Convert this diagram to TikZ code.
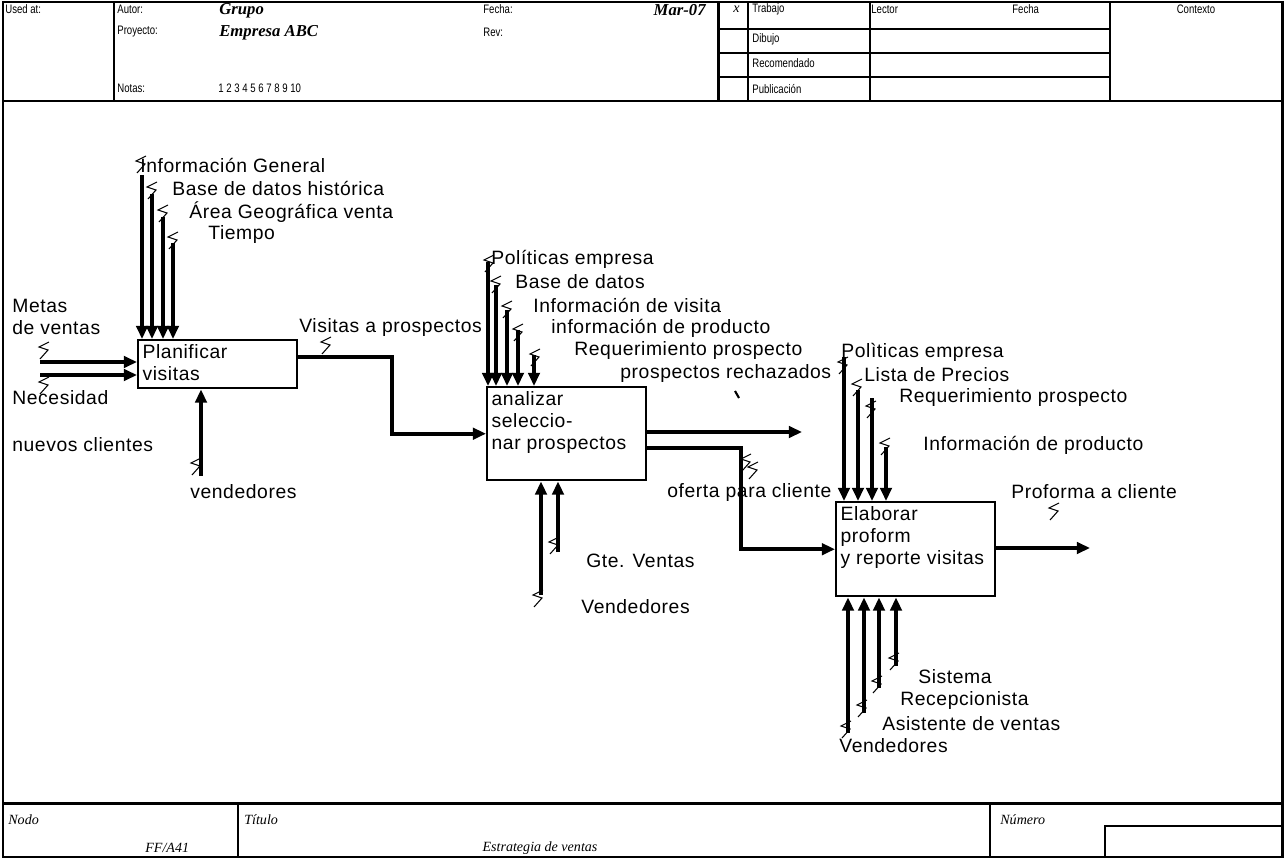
\documentclass[tikz,border=0pt]{standalone}
\usepackage{fontspec}
\setmainfont{Liberation Sans}
\newfontfamily\lblfont{Liberation Sans}[LetterSpace=3]
\newfontfamily\hdrfont{Liberation Sans}[FakeStretch=0.78]
\newfontfamily\handfont{Liberation Serif}
\usetikzlibrary{arrows.meta}

\tikzset{
  proc/.style={draw, line width=1.4pt, anchor=north west, inner sep=0pt},
  proctxt/.style={anchor=north west, inner sep=3pt, align=left, font=\lblfont\fontsize{11}{12.5}\selectfont},
  flow/.style={line width=2.2pt, -{Triangle[length=7.5pt,width=6.5pt]}},
  lbl/.style={anchor=west, inner sep=0pt, font=\lblfont\fontsize{11}{13}\selectfont},
  hdr/.style={anchor=west, inner sep=0pt, font=\hdrfont\fontsize{7}{8}\selectfont},
  hand/.style={anchor=west, inner sep=0pt, font=\handfont\itshape\fontsize{8}{9}\selectfont},
  handb/.style={anchor=west, inner sep=0pt, font=\handfont\bfseries\itshape\fontsize{9.5}{10}\selectfont},
  frm/.style={line width=1pt},
  frmb/.style={line width=1.7pt},
  squig/.style={line width=0.6pt}
}
\newcommand{\squigat}[2]{\draw[squig, shift={(#1,#2)}] (5,-8) -- (-5,-3) -- (4,0) -- (-4,9);}

\begin{document}
\begin{tikzpicture}[x=0.02cm, y=-0.02cm]
\useasboundingbox (0,0) rectangle (1284,858);

% frame
\draw[frmb] (3,2) rectangle (1282,857);
\draw[frmb] (3,101) -- (1282,101);
\draw[frmb] (3,803) -- (1282,803);
\draw[frmb] (114,2) -- (114,101);
\draw[frmb] (718,2) -- (718,101);
\draw[frm] (748,2) -- (748,101);
\draw[frm] (870,2) -- (870,101);
\draw[frm] (1110,2) -- (1110,101);
\foreach \r in {29,53,77}
  \draw[frm] (718,\r) -- (1110,\r);
\draw[frm] (238,803) -- (238,857);
\draw[frm] (990,803) -- (990,857);
\draw[frm] (1105,857) -- (1105,826) -- (1282,826);

% header texts
\node[hdr] (usedat) at (5,9) {Used at:};
\node[hdr] (autor) at (117,9) {Autor:};
\node[handb] (grupo) at (219,11) {Grupo};
\node[hdr] (fecha) at (483,9) {Fecha:};
\node[handb, anchor=east] (mar) at (706,10) {Mar-07};
\node[hand] (xmark) at (733,9) {x};
\node[hdr] (trabajo) at (752,9) {Trabajo};
\node[hdr] (lector) at (871,9) {Lector};
\node[hdr] (fecha2) at (1012,9) {Fecha};
\node[hdr, anchor=center] (contexto) at (1196,9) {Contexto};
\node[hdr] (proyecto) at (117,32) {Proyecto:};
\node[handb] (empresa) at (219,33) {Empresa ABC};
\node[hdr] (rev) at (483,32) {Rev:};
\node[hdr] (dibujo) at (752,39) {Dibujo};
\node[hdr] (recom) at (752,63) {Recomendado};
\node[hdr] (notas) at (117,88) {Notas:};
\node[hdr] (nums) at (218,88) {1 2 3 4 5 6 7 8 9 10};
\node[hdr] (publ) at (752,89) {Publicación};

% footer texts
\node[hand] (nodo) at (8,820) {Nodo};
\node[hand] (ff) at (145,848) {FF/A41};
\node[hand] (titulo) at (244,820) {Título};
\node[hand, anchor=center] (estr) at (540,848) {Estrategia de ventas};
\node[hand] (numero) at (1000,820) {Número};

% boxes
\node[proc, minimum width=3.18cm, minimum height=0.96cm] (b1) at (137,339) {};
\node[proctxt] at (b1.north west) {Planificar\\visitas};
\node[proc, minimum width=3.18cm, minimum height=1.86cm] (b2) at (486,386) {};
\node[proctxt] at (b2.north west) {analizar\\seleccio-\\nar prospectos};
\node[proc, minimum width=3.18cm, minimum height=1.88cm] (b3) at (835,501) {};
\node[proctxt] at (b3.north west) {Elaborar\\proform\\y reporte visitas};

% box 1
\node[lbl] (c11) at (140,165) {Información General};
\node[lbl] (c12) at (172,188) {Base de datos histórica};
\node[lbl] (c13) at (189,212) {Área Geográfica venta};
\node[lbl] (c14) at (208,235) {Tiempo};
\coordinate (s11) at (142,175);
\coordinate (s12) at (152,194);
\coordinate (s13) at (163,217);
\coordinate (s14) at (173,243);
\foreach \s in {s11,s12,s13,s14}
  \draw[flow] (\s) -- (\s |- b1.north);
\squigat{141}{164}
\squigat{152}{190}
\squigat{163}{213}
\squigat{173}{240}

\node[lbl] (i11) at (12,306) {Metas};
\node[lbl] (i12) at (12,328) {de ventas};
\node[lbl] (i13) at (12,398) {Necesidad};
\node[lbl] (i14) at (12,445) {nuevos clientes};
\coordinate (e11) at (40,362);
\coordinate (e12) at (40,375);
\draw[flow] (e11) -- (e11 -| b1.west);
\draw[flow] (e12) -- (e12 -| b1.west);
\squigat{44}{350}
\squigat{44}{385}

\node[lbl] (m11) at (190,492) {vendedores};
\coordinate (u11) at (201,476);
\draw[flow] (u11) -- (u11 |- b1.south);
\squigat{196}{466}

\node[lbl] (o11) at (299,328) {Visitas a prospectos};
\coordinate (k1) at (392,357);
\draw[flow] (b1.east |- k1) -- (k1) |- (b2.west);
\squigat{326}{345}

% box 2
\node[lbl] (c21) at (491,259) {Políticas empresa};
\node[lbl] (c22) at (515,282) {Base de datos};
\node[lbl] (c23) at (533,305) {Información de visita};
\node[lbl] (c24) at (551,328) {información de producto};
\node[lbl] (c25) at (574,351) {Requerimiento prospecto};
\coordinate (s21) at (488,262);
\coordinate (s22) at (496,285);
\coordinate (s23) at (507,310);
\coordinate (s24) at (518,330);
\coordinate (s25) at (534,355);
\foreach \s in {s21,s22,s23,s24,s25}
  \draw[flow] (\s) -- (\s |- b2.north);
\squigat{489}{263}
\squigat{496}{284}
\squigat{507}{309}
\squigat{518}{332}
\squigat{535}{357}

\node[lbl] (o21) at (620,374) {prospectos rechazados};
\coordinate (e21) at (802,432);
\draw[flow] (b2.east |- e21) -- (e21);
\draw[squig, line width=1.2pt] (735,391) -- (739,398);

\node[lbl] (o22) at (667,492) {oferta para cliente};
\coordinate (k2) at (741,448);
\draw[flow] (b2.east |- k2) -- (k2) |- (b3.west);
\squigat{746}{462}
\squigat{753}{470}

\node[lbl] (m21) at (586,561) {Gte. Ventas};
\node[lbl] (m22) at (581,607) {Vendedores};
\coordinate (u21) at (541,595);
\coordinate (u22) at (558,552);
\draw[flow] (u21) -- (u21 |- b2.south);
\draw[flow] (u22) -- (u22 |- b2.south);
\squigat{538}{598}
\squigat{554}{545}

% box 3
\node[lbl] (c31) at (841,352) {Polìticas empresa};
\node[lbl] (c32) at (864,375) {Lista de Precios};
\node[lbl] (c33) at (899,398) {Requerimiento prospecto};
\node[lbl] (c34) at (923,445) {Información de producto};
\coordinate (s31) at (844,357);
\coordinate (s32) at (858,390);
\coordinate (s33) at (872,398);
\coordinate (s34) at (886,447);
\foreach \s in {s31,s32,s33,s34}
  \draw[flow] (\s) -- (\s |- b3.north);
\squigat{843}{365}
\squigat{857}{387}
\squigat{871}{409}
\squigat{885}{446}

\node[lbl] (o31) at (1011,492) {Proforma a cliente};
\coordinate (e31) at (1090,548);
\draw[flow] (b3.east |- e31) -- (e31);
\squigat{1054}{511}

\node[lbl] (m31) at (918,677) {Sistema};
\node[lbl] (m32) at (900,700) {Recepcionista};
\node[lbl] (m33) at (882,724) {Asistente de ventas};
\node[lbl] (m34) at (839,746) {Vendedores};
\coordinate (u31) at (848,733);
\coordinate (u32) at (864,713);
\coordinate (u33) at (879,688);
\coordinate (u34) at (896,666);
\foreach \u in {u31,u32,u33,u34}
  \draw[flow] (\u) -- (\u |- b3.south);
\squigat{846}{729}
\squigat{862}{708}
\squigat{877}{684}
\squigat{894}{661}

\end{tikzpicture}
\end{document}
